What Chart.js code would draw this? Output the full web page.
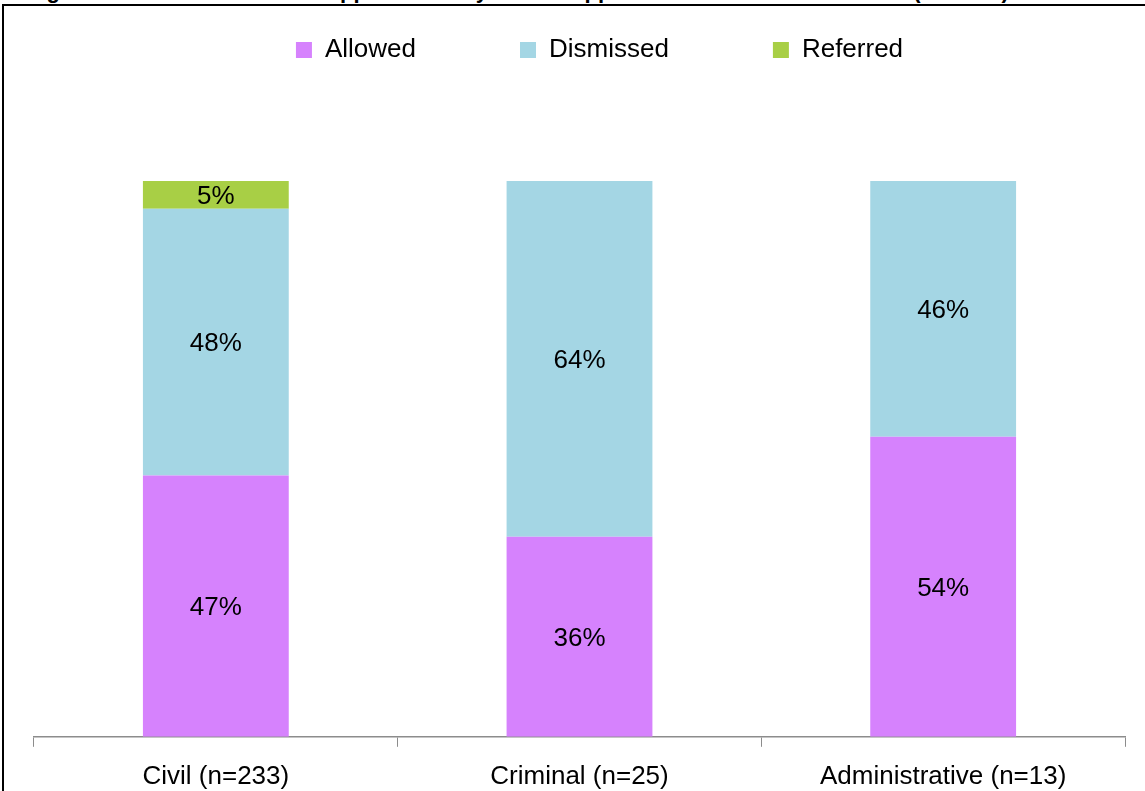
<!DOCTYPE html>
<html lang="en">
<head>
    <meta charset="UTF-8">
    <title>Outcome of leave applications</title>
    <script src="https://cdn.jsdelivr.net/npm/chart.js@4.4.0/dist/chart.umd.min.js"></script>
    <style>
        html, body { margin: 0; padding: 0; background: #fff; overflow: hidden; }
        .page { position: relative; width: 1145px; height: 791px; overflow: hidden; }
        .frame { position: absolute; left: 2px; top: 4px; width: 1300px; height: 900px;
                 border-left: 2px solid #000; border-top: 2px solid #000; }
        .title { position: absolute; left: 27px; top: -20px; white-space: nowrap;
                 font: bold 22px "Liberation Sans", Arial, sans-serif; line-height: 22px; color: #000; }
        #chart { position: absolute; left: 0; top: 0; }
    </style>
</head>
<body>
    <div class="page">
        <div class="frame"></div>
        <div class="title">Figure 10: Outcome of leave applications by area of appeal determined and finalised (2012-13)</div>
        <canvas id="chart" width="1165" height="791"></canvas>
    </div>

    <script>
        // data
        const categories = ['Civil (n=233)', 'Criminal (n=25)', 'Administrative (n=13)'];
        const allowed = [47, 36, 54];
        const dismissed = [48, 64, 46];
        const referred = [5, 0, 0];

        const fontFamily = '"Liberation Sans", Arial, sans-serif';

        // draws the % labels in the middle of each bar segment
        const segmentLabels = {
            id: 'segmentLabels',
            afterDatasetsDraw(chart) {
                const ctx = chart.ctx;
                ctx.save();
                ctx.font = '26px ' + fontFamily;
                ctx.fillStyle = '#000';
                ctx.textAlign = 'center';
                ctx.textBaseline = 'middle';
                chart.data.datasets.forEach((ds, i) => {
                    chart.getDatasetMeta(i).data.forEach((bar, j) => {
                        const v = ds.data[j];
                        if (!v) return;
                        const p = bar.getProps(['x', 'y', 'base'], true);
                        ctx.fillText(v + '%', p.x, (p.y + p.base) / 2 + 2);
                    });
                });
                ctx.restore();
            }
        };

        // leave room between legend and bars
        const legendGap = {
            id: 'legendGap',
            beforeInit(chart) {
                const fit = chart.legend.fit;
                chart.legend.fit = function () {
                    fit.call(this);
                    this.height = 248;
                };
            }
        };

        new Chart(document.getElementById('chart'), {
            type: 'bar',
            data: {
                labels: categories,
                datasets: [
                    { label: 'Allowed', data: allowed, backgroundColor: '#d682fd' },
                    { label: 'Dismissed', data: dismissed, backgroundColor: '#a4d6e4' },
                    { label: 'Referred', data: referred, backgroundColor: '#a8cf45' }
                ]
            },
            options: {
                responsive: false,
                animation: false,
                layout: { padding: { left: 34, right: 0, top: -67, bottom: -15 } },
                datasets: { bar: { barPercentage: 0.401, categoryPercentage: 1 } },
                plugins: {
                    legend: {
                        position: 'top',
                        labels: {
                            boxWidth: 16,
                            boxHeight: 16,
                            padding: 104,
                            color: '#000',
                            font: { family: fontFamily, size: 26 }
                        }
                    },
                    tooltip: { enabled: false }
                },
                scales: {
                    x: {
                        stacked: true,
                        grid: { offset: true, drawOnChartArea: false, color: '#8c8c8c', tickLength: 10 },
                        border: { color: '#8c8c8c', width: 1.5 },
                        ticks: { color: '#000', padding: 14, font: { family: fontFamily, size: 26 } }
                    },
                    y: {
                        stacked: true,
                        position: 'right',
                        min: 0,
                        max: 100,
                        grid: { display: false },
                        border: { display: false },
                        ticks: { display: false },
                        afterFit(scale) { scale.width = 40; }
                    }
                }
            },
            plugins: [segmentLabels, legendGap]
        });
    </script>
</body>
</html>
